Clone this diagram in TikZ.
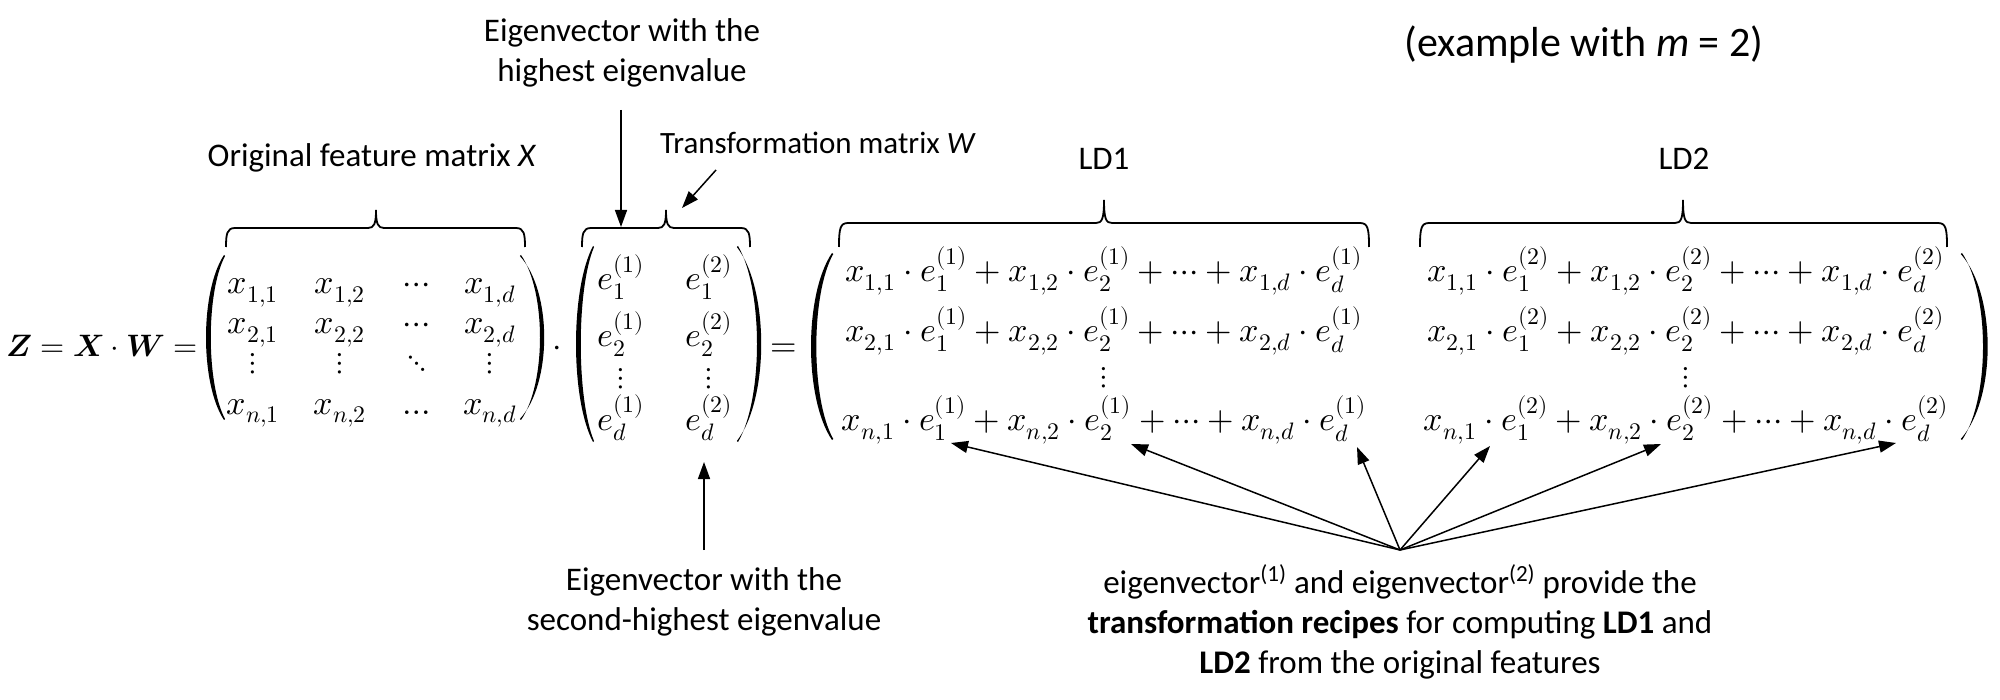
\documentclass[tikz,border=0pt]{standalone}
\usepackage{fontspec}
\usepackage{unicode-math}
\setmainfont{Carlito}
\setmathfont{Latin Modern Math}
\usetikzlibrary{arrows.meta}
% xa, xm, xb, line y, tip y, end y
\newcommand{\curlybrace}[6]{%
  \draw[brc] (#1,#6) .. controls (#1,#4+6) and (#1+1,#4) .. (#1+9,#4) -- (#2-8,#4)
    .. controls (#2-2,#4) and (#2,#4-4) .. (#2,#5)
    .. controls (#2,#4-4) and (#2+2,#4) .. (#2+8,#4) -- (#3-9,#4)
    .. controls (#3-1,#4) and (#3,#4+6) .. (#3,#6);}
% parenthesis: end x, bulge (negative = opens left), thickness, top y, bottom y
\newcommand{\bigparen}[5]{%
  \fill (#1,#4) .. controls (#1-1.333*#2,#4+0.22*#5-0.22*#4) and (#1-1.333*#2,#5-0.22*#5+0.22*#4) .. (#1,#5)
    -- (#1+0.06*#2,#5-1)
    .. controls (#1-1.333*#2+1.333*#3,#5-0.22*#5+0.22*#4) and (#1-1.333*#2+1.333*#3,#4+0.22*#5-0.22*#4) .. (#1+0.06*#2,#4+1)
    -- cycle;}
\begin{document}
\begin{tikzpicture}[x=1pt,y=-1pt,
  lbl/.style={font=\fontsize{33}{40}\selectfont, align=center, inner sep=0pt},
  mth/.style={font=\fontsize{34}{40}\selectfont, inner sep=0pt, anchor=base},
  mthc/.style={font=\fontsize{31}{40}\selectfont, inner sep=0pt, anchor=center},
  brc/.style={draw, line width=1.8pt},
  conn/.style={draw, line width=1.5pt, -{Triangle[length=17pt,width=12pt]}}]
\useasboundingbox (0,0) rectangle (2000,700);
\fill[white] (0,0) rectangle (2000,700);

% labels
\node[lbl] (top) at (622,53) {Eigenvector with the\\highest eigenvalue};
\node[lbl, font=\fontsize{31}{38}\selectfont] (trans) at (818,143) {Transformation matrix \textit{W}};
\node[lbl] (orig) at (372,158) {Original feature matrix \textit{X}};
\node[lbl] (ld1) at (1104,159) {LD1};
\node[lbl] (ld2) at (1684,159) {LD2};
\node[lbl, font=\fontsize{42}{48}\selectfont] (ex) at (1584,45) {(example with \textit{m} = 2)};
\node[lbl] (second) at (704,602) {Eigenvector with the\\second-highest eigenvalue};
\node[lbl] (recipe) at (1400,622) {eigenvector\textsuperscript{(1)} and eigenvector\textsuperscript{(2)} provide the\\\textbf{transformation recipes} for computing \textbf{LD1} and\\\textbf{LD2} from the original features};

% left equation
\node[mth, anchor=base west, font=\fontsize{31}{40}\selectfont] (zeq) at (6,357) {$\symbfit{Z}=\symbfit{X}\cdot\symbfit{W}=$};
\node[mth] (dot1) at (557,357) {$\cdot$};
\node[mth] (eq2) at (784,357) {$=$};

% parentheses (drawn)
\bigparen{224}{18}{4.5}{255}{420}
\bigparen{521}{-19}{4.5}{255}{420}
\bigparen{593}{17}{4.5}{246}{442}
\bigparen{738}{-19}{4.5}{246}{442}
\bigparen{832}{21}{5}{253}{440}
\bigparen{1962}{-21}{5}{253}{440}

% matrix entries (baseline anchored)
\foreach \t/\x/\y/\n in {
  {x_{1,1}}/253/294/x11, {x_{1,2}}/340/294/x12, {\cdots}/417/294/x13, {x_{1,d}}/490/294/x14,
  {x_{2,1}}/253/334/x21, {x_{2,2}}/340/334/x22, {\cdots}/417/334/x23, {x_{2,d}}/490/334/x24,
  {x_{n,1}}/253/414/x41, {x_{n,2}}/340/414/x42, {\ldots}/417/414/x43, {x_{n,d}}/490/414/x44,
  {e_1^{(1)}}/621/290/w11, {e_1^{(2)}}/709/290/w12,
  {e_2^{(1)}}/621/347/w21, {e_2^{(2)}}/709/347/w22,
  {e_d^{(1)}}/621/430/w41, {e_d^{(2)}}/709/430/w42,
  {x_{1,1}\cdot e_1^{(1)}+x_{1,2}\cdot e_2^{(1)}+\cdots+x_{1,d}\cdot e_d^{(1)}}/1104/282/r11,
  {x_{2,1}\cdot e_1^{(1)}+x_{2,2}\cdot e_2^{(1)}+\cdots+x_{2,d}\cdot e_d^{(1)}}/1104/342/r21,
  {x_{n,1}\cdot e_1^{(1)}+x_{n,2}\cdot e_2^{(1)}+\cdots+x_{n,d}\cdot e_d^{(1)}}/1104/431/r41,
  {x_{1,1}\cdot e_1^{(2)}+x_{1,2}\cdot e_2^{(2)}+\cdots+x_{1,d}\cdot e_d^{(2)}}/1686/282/r12,
  {x_{2,1}\cdot e_1^{(2)}+x_{2,2}\cdot e_2^{(2)}+\cdots+x_{2,d}\cdot e_d^{(2)}}/1686/342/r22,
  {x_{n,1}\cdot e_1^{(2)}+x_{n,2}\cdot e_2^{(2)}+\cdots+x_{n,d}\cdot e_d^{(2)}}/1686/431/r42}
  \node[mth] (\n) at (\x,\y) {$\t$};
% dots (center anchored)
\foreach \t/\x/\y/\n in {
  {\vdots}/253/364/x31, {\vdots}/340/364/x32, {\ddots}/417/364/x33, {\vdots}/490/364/x34,
  {\vdots}/621/379/w31, {\vdots}/709/379/w32, {\vdots}/1104/378/r31, {\vdots}/1686/378/r32}
  \node[mthc] (\n) at (\x,\y) {$\t$};

% braces
\curlybrace{226}{376}{525}{228}{210}{247}
\curlybrace{582}{666}{750}{228}{210}{247}
\curlybrace{839}{1104}{1369}{223}{200}{247}
\curlybrace{1420}{1683}{1947}{223}{200}{247}

% arrows
\coordinate (a1s) at (621,110); \coordinate (a1e) at (621,227);
\coordinate (a2s) at (716,170); \coordinate (a2e) at (682,208);
\coordinate (a3s) at (704,550); \coordinate (a3e) at (704,462);
\draw[conn] (a1s) -- (a1e);
\draw[conn] (a2s) -- (a2e);
\draw[conn] (a3s) -- (a3e);
\coordinate (hub) at (1400,550);
\coordinate (t1) at (951,443);
\coordinate (t2) at (1131,444);
\coordinate (t3) at (1357,447);
\coordinate (t4) at (1490,446);
\coordinate (t5) at (1661,444);
\coordinate (t6) at (1896,443);
\foreach \k in {1,...,6} \draw[conn] (hub) -- (t\k);
\end{tikzpicture}
\end{document}
